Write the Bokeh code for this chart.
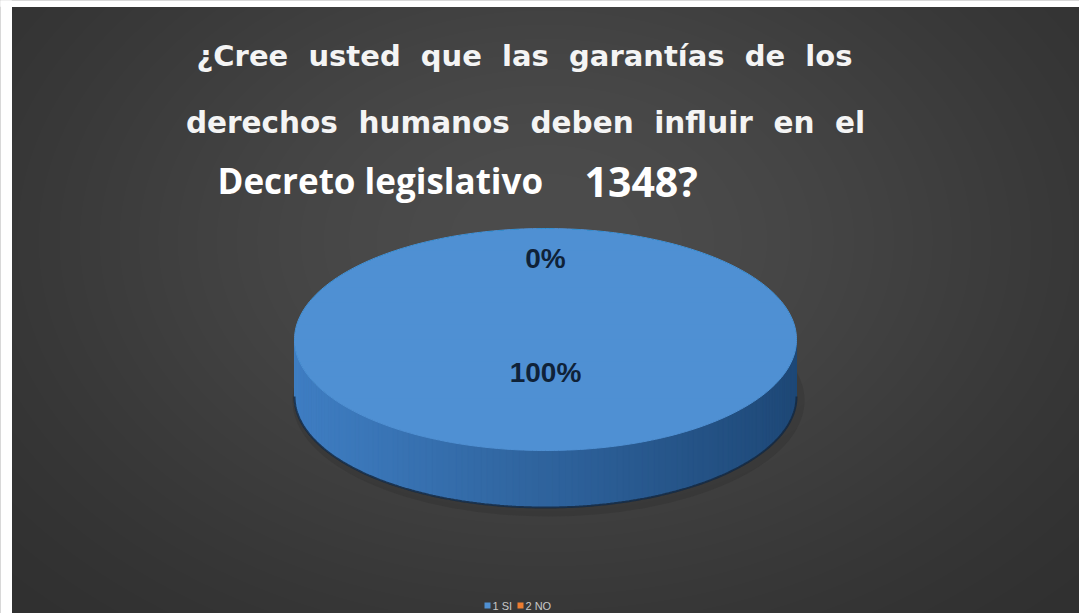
import numpy as np
from bokeh.plotting import figure
from bokeh.models import Range1d
from bokeh.core.properties import value
from bokeh.embed import file_html
from bokeh.resources import INLINE

# ---------------- data ----------------
NB = "\u00a0"
title_line1 = NB.join(["¿Cree ", "usted ", "que ", "las ", "garantías ", "de ", "los"]).replace(" " + NB, NB + " ")
title_line2 = NB.join(["derechos ", "humanos ", "deben ", "influir ", "en ", "el"]).replace(" " + NB, NB + " ")
title_line3a = "Decreto legislativo"
title_line3b = "1348?"
categories = ["1 SI", "2 NO"]
shares = [100, 0]            # percent
slice_colors = ["#4f90d3", "#ed7d31"]
side_light = ["#3f7ec3", "#c8682a"]
side_dark = ["#1e4877", "#7a3a10"]

# ---------------- figure ----------------
W, H = 1079, 613
p = figure(width=W, height=H, x_range=Range1d(0, W), y_range=Range1d(0, H),
           output_backend="svg", toolbar_location=None, min_border=0)
p.axis.visible = False
p.grid.visible = False
p.outline_line_color = None
p.background_fill_color = "#303030"
p.border_fill_color = "#303030"


def Y(y):
    return H - np.asarray(y, dtype=float)


# background radial gradient (panel from x=11, y=6)
PX0, PY0 = 11, 6
PW, PH = W - PX0 + 4, H - PY0 + 4
xs = PX0 + np.arange(PW) + 0.5
ys_img = H + 4 - (np.arange(PH) + 0.5)
XX, YY = np.meshgrid(xs, ys_img)
r2 = ((XX - 545) / 600.0) ** 2 + ((YY - 240) / 420.0) ** 2
L = 43 + 33 * np.exp(-1.2 * r2)
L = np.clip(L, 0, 255).astype(np.uint8)
img = np.empty((PH, PW), dtype=np.uint32)
view = img.view(dtype=np.uint8).reshape((PH, PW, 4))
view[:, :, 0] = L
view[:, :, 1] = L
view[:, :, 2] = L
view[:, :, 3] = 255
p.image_rgba(image=[img], x=PX0, y=-4, dw=PW, dh=PH)
# white page margin visible at the left and top of the reference
p.quad(left=0, right=PX0, bottom=0, top=H, color="white")
p.quad(left=0, right=W, bottom=H - PY0, top=H, color="white")

# ---------------- 3D pie ----------------
cx, cy, rx, ry, depth = 545.0, 339.0, 251.0, 111.0, 57.0


def hexrgb(h):
    h = h.lstrip("#")
    return np.array([int(h[i:i + 2], 16) for i in (0, 2, 4)], dtype=float)


def mix(c1, c2, t):
    c = hexrgb(c1) * (1 - t) + hexrgb(c2) * t
    return "#%02x%02x%02x" % tuple(int(round(v)) for v in c)


total = float(sum(shares))
starts = np.cumsum([0] + shares[:-1]) / total
ends = np.cumsum(shares) / total

# soft shadow under the pie
p.ellipse(x=cx + 3, y=Y(cy + depth + 4), width=2 * rx + 10, height=2 * ry + 10,
          fill_color="#222222", fill_alpha=0.2, line_color=None)

# side walls (front half only)
for i, (s0, s1) in enumerate(zip(starts, ends)):
    if s1 - s0 <= 0:
        continue
    a0 = -np.pi / 2 + 2 * np.pi * s0
    a1 = -np.pi / 2 + 2 * np.pi * s1
    th = np.linspace(a0, a1, 241)
    sx, sy, cols = [], [], []
    for k in range(len(th) - 1):
        m = 0.5 * (th[k] + th[k + 1])
        if np.sin(m) <= 0:
            continue
        t0, t1 = th[k], th[k + 1]
        px = [cx + rx * np.cos(t0), cx + rx * np.cos(t1), cx + rx * np.cos(t1), cx + rx * np.cos(t0)]
        py = [cy + ry * np.sin(t0), cy + ry * np.sin(t1), cy + ry * np.sin(t1) + depth, cy + ry * np.sin(t0) + depth]
        tt = (1 + np.cos(m)) / 2.0
        sx.append(px)
        sy.append(list(Y(py)))
        cols.append(mix(side_light[i], side_dark[i], tt))
    if sx:
        p.patches(sx, sy, fill_color=cols, line_color=cols, line_width=1)

# bottom edge outline
thb = np.linspace(0, np.pi, 200)
p.line(cx + rx * np.cos(thb), Y(cy + ry * np.sin(thb) + depth), line_color="#14263b",
       line_width=2, line_alpha=0.8)

# top faces
for i, (s0, s1) in enumerate(zip(starts, ends)):
    if s1 - s0 <= 0:
        continue
    a0 = -np.pi / 2 + 2 * np.pi * s0
    a1 = -np.pi / 2 + 2 * np.pi * s1
    th = np.linspace(a0, a1, 361)
    px = cx + rx * np.cos(th)
    py = cy + ry * np.sin(th)
    if s1 - s0 < 1:
        px = np.concatenate([[cx], px])
        py = np.concatenate([[cy], py])
    p.patch(px, Y(py), fill_color=slice_colors[i], line_color=slice_colors[i], line_width=1)

# subtle highlight on the upper part of the top face
nb = 24
for k in range(1, nb + 1):
    ycut = cy - ry + (2 * ry) * 0.8 * k / nb
    th = np.linspace(0, 2 * np.pi, 361)
    ex = cx + rx * np.cos(th)
    ey = cy + ry * np.sin(th)
    ey = np.minimum(ey, ycut)
    p.patch(ex, Y(ey), fill_color="#a8d4ff", fill_alpha=0.009, line_color=None)

# data labels
label_r = [0.30, 0.73]
for i, (s0, s1) in enumerate(zip(starts, ends)):
    mid = -np.pi / 2 + 2 * np.pi * (s0 + s1) / 2
    lx = cx + label_r[i] * rx * np.cos(mid)
    ly = cy + label_r[i] * ry * np.sin(mid)
    p.text(x=[lx], y=[Y(ly)], text=["%d%%" % shares[i]], text_align="center",
           text_baseline="middle", text_font=value("Liberation Sans"), text_font_style="bold",
           text_font_size="28px", text_color="#0f2238")

# ---------------- title ----------------
p.text(x=[524], y=[Y(55)], text=[title_line1], text_align="center", text_baseline="alphabetic",
       text_font=value("DejaVu Sans"), text_font_style="bold", text_font_size="29px",
       text_color="#f4f4f4")
p.text(x=[525], y=[Y(122)], text=[title_line2], text_align="center", text_baseline="alphabetic",
       text_font=value("DejaVu Sans"), text_font_style="bold", text_font_size="29.5px",
       text_color="#f4f4f4")
p.text(x=[217], y=[Y(180)], text=[title_line3a], text_align="left", text_baseline="alphabetic",
       text_font=value("Open Sans"), text_font_style="bold", text_font_size="35px",
       text_color="#ffffff")
p.text(x=[584], y=[Y(180)], text=[title_line3b], text_align="left", text_baseline="alphabetic",
       text_font=value("Open Sans"), text_font_style="bold", text_font_size="41px",
       text_color="#ffffff")

# ---------------- legend ----------------
for i, cat in enumerate(categories):
    x0 = 484 + i * 33
    p.scatter(x=[x0 + 3], y=[Y(605)], marker="square", size=6, fill_color=slice_colors[i],
              line_color=None)
    p.text(x=[x0 + 8], y=[Y(605)], text=[cat], text_align="left", text_baseline="middle",
           text_font=value("Liberation Sans"), text_font_size="11px", text_color="#c8c8c8")

open("out.html", "w").write(file_html(p, INLINE))
